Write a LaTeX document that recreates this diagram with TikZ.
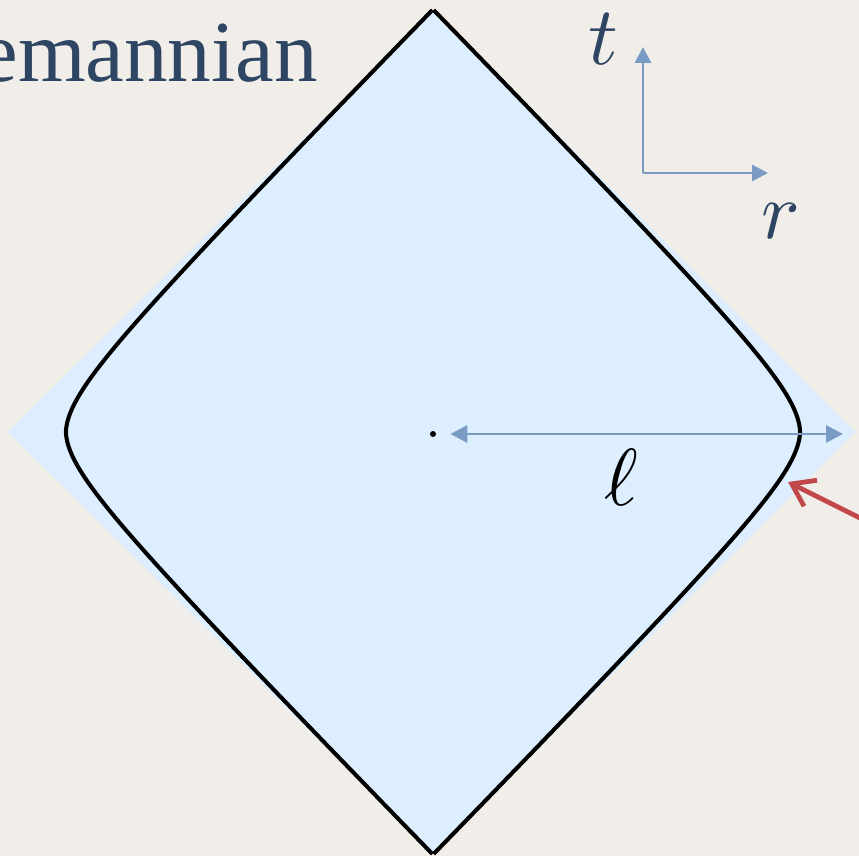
\documentclass[tikz,border=0pt]{standalone}
\usepackage{fontspec}
\usepackage{graphicx}
\usetikzlibrary{arrows.meta}

\newfontfamily\titlefont{Liberation Serif}

\definecolor{paper}{HTML}{F1EEE9}
\definecolor{patchblue}{HTML}{DDEEFE}
\definecolor{inkblue}{HTML}{2E4663}
\definecolor{axisblue}{HTML}{7A9CC4}
\definecolor{pointred}{HTML}{C0484A}

\begin{document}
\begin{tikzpicture}[
    axisarrow/.style={axisblue, line width=1.7pt, -{Triangle[length=0.32cm, width=0.32cm]}},
    lenarrow/.style={axisblue, line width=1.7pt, {Triangle[length=0.34cm, width=0.34cm]}-{Triangle[length=0.34cm, width=0.34cm]}},
    bigmath/.style={inkblue}
  ]
    % Fundo e caixa delimitadora
    \useasboundingbox (-8.66,-8.48) rectangle (8.52,8.64);
    \fill[paper] (-8.66,-8.48) rectangle (8.52,8.64);

    % Losango azul claro
    \fill[patchblue] (0,8.44) -- (8.45,0) -- (0,-8.42) -- (-8.5,0) -- cycle;

    % Curva arredondada (borda preta)
    \draw[black, line width=2.3pt, line join=round, smooth, samples=241, domain=-8.44:8.44, variable=\t]
      plot ({0.983*(8.568 - pow(pow(abs(\t)+0.0001,1.8) + pow(1.1,1.8), 1/1.8))}, {\t})
      plot ({-0.983*(8.568 - pow(pow(abs(\t)+0.0001,1.8) + pow(1.1,1.8), 1/1.8))}, {\t});

    % Texto cortado no canto
    \node[inkblue, inner sep=0, anchor=base east, font=\titlefont\fontsize{49.5}{56}\selectfont] (title) at (-2.30,7.00) {emannian};

    % Eixos t e r
    \coordinate (corner) at (4.20,5.18);
    \coordinate (tend) at (4.20,7.70);
    \coordinate (rend) at (6.70,5.18);
    \draw[axisarrow] (corner) -- (tend);
    \draw[axisarrow] (corner) -- (rend);
    \node[bigmath] (tlabel) at (3.40,7.86) {\scalebox{4.7}{$t$}};
    \node[bigmath] (rlabel) at (6.96,4.22) {\scalebox{4.6}{$r$}};

    % Centro e comprimento ell
    \node[circle, fill=black, inner sep=0, minimum size=0.12cm] (center) at (0,-0.04) {};
    \coordinate (rim) at (8.20,-0.04);
    \draw[lenarrow, shorten <=0.28cm] (center) -- (rim);
    \node (ell) at (3.76,-0.90) {\scalebox{4.6}{$\ell$}};

    % Seta vermelha apontando a borda
    \coordinate (redtip) at (7.10,-1.00);
    \coordinate (redtail) at (8.94,-1.92);
    \draw[pointred, line width=2.7pt, -{Straight Barb[length=0.42cm, width=0.58cm]}] (redtail) -- (redtip);
\end{tikzpicture}
\end{document}
